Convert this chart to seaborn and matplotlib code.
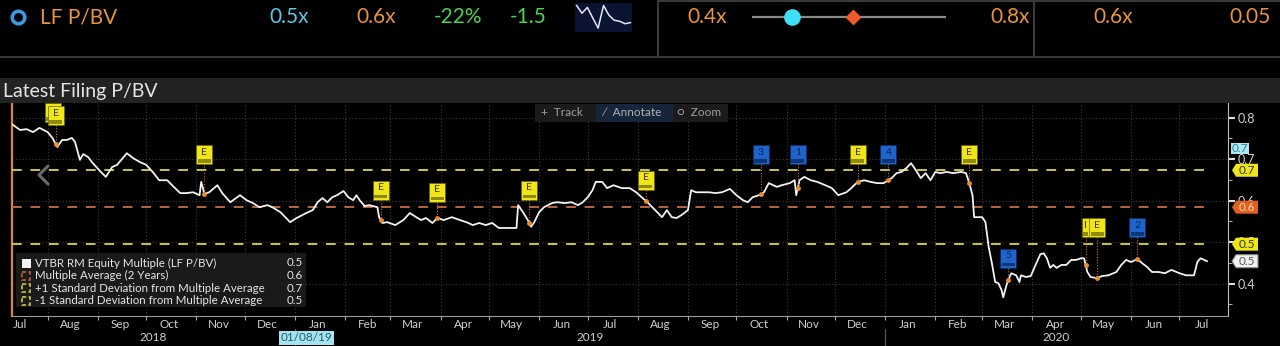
import numpy as np
import pandas as pd
import matplotlib
matplotlib.use("Agg")
import matplotlib.pyplot as plt
import matplotlib.dates as mdates
import matplotlib.transforms as mtransforms
from matplotlib.patches import Rectangle, Polygon
from matplotlib.ticker import NullFormatter, MultipleLocator
import seaborn as sns

# ---------------- data ----------------
start_date = "2018-07-10"
end_date = "2020-07-31"
day_offsets = [0, 5, 9, 13, 17, 22, 25, 27, 28, 31,
               34, 37, 39, 42, 44, 47, 50, 54, 58, 62,
               65, 71, 75, 79, 83, 87, 91, 96, 99, 104,
               108, 112, 116, 117, 119, 122, 127, 130, 135, 141,
               145, 149, 153, 158, 161, 166, 172, 176, 182, 186,
               189, 192, 195, 198, 201, 205, 208, 211, 213, 215,
               218, 221, 226, 227, 229, 232, 237, 242, 246, 250,
               253, 256, 260, 263, 267, 272, 277, 281, 285, 289,
               293, 297, 301, 306, 312, 313, 316, 319, 321, 323,
               326, 329, 334, 337, 342, 346, 350, 353, 356, 359,
               361, 365, 368, 372, 377, 382, 386, 390, 393, 396,
               399, 402, 405, 408, 411, 414, 418, 420, 423, 427,
               431, 435, 439, 444, 448, 452, 455, 458, 462, 465,
               468, 473, 476, 481, 484, 485, 487, 490, 494, 498,
               503, 507, 511, 516, 519, 523, 527, 531, 535, 539,
               544, 547, 550, 553, 556, 559, 562, 565, 568, 571,
               574, 578, 582, 587, 590, 592, 594, 595, 600, 602,
               604, 606, 608, 610, 612, 613, 615, 616, 618, 621,
               623, 624, 627, 630, 633, 636, 638, 640, 642, 644,
               646, 649, 652, 655, 658, 661, 663, 665, 667, 671,
               674, 678, 683, 686, 689, 692, 696, 699, 702, 705,
               709, 713, 717, 722, 726, 731, 733, 735, 739]
pbv_values = [0.784, 0.770, 0.772, 0.765, 0.775, 0.765, 0.751, 0.736, 0.729, 0.746,
              0.746, 0.751, 0.741, 0.698, 0.712, 0.705, 0.690, 0.673, 0.657, 0.681,
              0.686, 0.714, 0.702, 0.693, 0.686, 0.669, 0.649, 0.649, 0.637, 0.618,
              0.618, 0.620, 0.613, 0.645, 0.616, 0.620, 0.637, 0.618, 0.596, 0.613,
              0.601, 0.594, 0.584, 0.589, 0.584, 0.572, 0.548, 0.558, 0.570, 0.577,
              0.596, 0.606, 0.596, 0.608, 0.613, 0.623, 0.608, 0.601, 0.613, 0.601,
              0.587, 0.589, 0.584, 0.560, 0.546, 0.548, 0.541, 0.553, 0.570, 0.560,
              0.553, 0.558, 0.546, 0.558, 0.553, 0.560, 0.553, 0.548, 0.541, 0.546,
              0.541, 0.546, 0.534, 0.534, 0.534, 0.589, 0.572, 0.553, 0.537, 0.548,
              0.572, 0.584, 0.594, 0.596, 0.594, 0.596, 0.589, 0.596, 0.608, 0.625,
              0.645, 0.645, 0.630, 0.637, 0.630, 0.630, 0.620, 0.606, 0.596, 0.584,
              0.572, 0.560, 0.577, 0.560, 0.558, 0.565, 0.577, 0.625, 0.620, 0.620,
              0.620, 0.618, 0.620, 0.628, 0.613, 0.601, 0.596, 0.608, 0.613, 0.620,
              0.642, 0.633, 0.637, 0.642, 0.649, 0.613, 0.649, 0.657, 0.649, 0.645,
              0.637, 0.630, 0.613, 0.620, 0.630, 0.645, 0.649, 0.645, 0.642, 0.642,
              0.654, 0.666, 0.669, 0.678, 0.690, 0.673, 0.654, 0.666, 0.649, 0.669,
              0.666, 0.669, 0.666, 0.669, 0.666, 0.642, 0.613, 0.560, 0.560, 0.548,
              0.488, 0.449, 0.404, 0.401, 0.384, 0.367, 0.396, 0.408, 0.425, 0.420,
              0.404, 0.420, 0.416, 0.418, 0.445, 0.471, 0.473, 0.461, 0.438, 0.445,
              0.438, 0.445, 0.445, 0.457, 0.457, 0.461, 0.461, 0.428, 0.416, 0.413,
              0.418, 0.420, 0.428, 0.445, 0.457, 0.452, 0.459, 0.449, 0.440, 0.428,
              0.428, 0.425, 0.433, 0.425, 0.420, 0.420, 0.452, 0.461, 0.454]
avg_2y = 0.584
sd_plus = 0.673
sd_minus = 0.495
cyan_tag_value = 0.726

event_days = [27, 119, 228, 263, 320, 392, 463, 486, 523, 542, 592, 616, 664, 671, 696]
event_labels = ["E", "E", "E", "E", "E", "E", "3", "1", "E", "4", "E", "5", "I", "E", "2"]
event_box_levels = [0.804, 0.710, 0.625, 0.620, 0.625, 0.649, 0.710, 0.710, 0.710,
                    0.710, 0.710, 0.461, 0.534, 0.534, 0.534]
event_stack = [2, 1, 1, 1, 1, 1, 1, 1, 1, 1, 1, 1, 1, 1, 1]

crosshair_date = "2019-01-08"
crosshair_label = "01/08/19"
y_ticks = [0.4, 0.5, 0.6, 0.7, 0.8]

legend_labels = ["VTBR RM Equity Multiple (LF P/BV)",
                 "Multiple Average (2 Years)",
                 "+1 Standard Deviation from Multiple Average",
                 "-1 Standard Deviation from Multiple Average"]
legend_values = ["0.5", "0.6", "0.7", "0.5"]

header_name = "LF P/BV"
header_values = ["0.5x", "0.6x", "-22%", "-1.5"]
header_range = ["0.4x", "0.8x"]
header_right = ["0.6x", "0.05"]
spark_values = [0.91, 0.63, 0.84, 0.46, 0.09, 0.91, 0.56, 0.375, 0.34, 0.25, 0.29]

# ---------------- style ----------------
plt.rcParams['font.family'] = ['Lato', 'DejaVu Sans']
W, H = 1280, 346
WHITE = '#f2f2f2'
ORANGE = '#ee8f2c'
YELLOW_DASH = '#cbc646'
ORANGE_DASH = '#bb6440'
BOX_YELLOW = '#efe519'
BOX_BLUE = '#1f63cc'
GRID = '#3d3d3d'
TXT = '#cfcfcf'

fig = plt.figure(figsize=(W / 100, H / 100), dpi=100, facecolor='black')

ax = fig.add_axes([12 / W, 1 - 316 / H, 1216 / W, 213 / H])
ax.set_facecolor('black')

dates = pd.Timestamp(start_date) + pd.to_timedelta(day_offsets, unit='D')
df = pd.DataFrame({'date': dates, 'pbv': pbv_values})
sns.lineplot(data=df, x='date', y='pbv', ax=ax, color=WHITE, lw=1.3, zorder=4)

x0 = mdates.date2num(pd.Timestamp(start_date))
x1 = mdates.date2num(pd.Timestamp(end_date))
ax.set_xlim(x0, x1)
ax.set_ylim(0.322, 0.835)

# reference lines
d_first, d_last = mdates.date2num(dates[0]), mdates.date2num(dates[-1])
for v, c in [(sd_plus, YELLOW_DASH), (avg_2y, ORANGE_DASH), (sd_minus, YELLOW_DASH)]:
    ax.plot([d_first, d_last], [v, v], color=c, lw=1.4, ls=(0, (5, 4.5)), zorder=3)

# event markers on the line
ev_dates = pd.Timestamp(start_date) + pd.to_timedelta(event_days, unit='D')
ev_num = mdates.date2num(ev_dates)
ev_line = np.interp(event_days, day_offsets, pbv_values)
ax.plot(ev_num, ev_line, 'o', color=ORANGE, ms=3.5, mec='none', zorder=5)

# axes / ticks
ax.xaxis.set_major_locator(mdates.MonthLocator())
ax.xaxis.set_major_formatter(NullFormatter())
ax.xaxis.set_minor_locator(mdates.MonthLocator(bymonthday=15))
ax.xaxis.set_minor_formatter(mdates.DateFormatter('%b'))
ax.tick_params(axis='x', which='major', length=3, width=0.8, color='#aaaaaa')
ax.tick_params(axis='x', which='minor', length=0, labelsize=8.5, labelcolor=TXT, pad=2)
ax.yaxis.tick_right()
ax.set_yticks(y_ticks)
ax.set_yticklabels([f"{t:.1f}" for t in y_ticks])
ax.yaxis.set_minor_locator(MultipleLocator(0.05))
ax.tick_params(axis='y', which='major', length=5, width=1.5, color='#dddddd',
               labelcolor=TXT, labelsize=9, pad=2)
ax.tick_params(axis='y', which='minor', length=3, width=0.8, color='#aaaaaa')
ax.grid(which='major', axis='both', color=GRID, ls=(0, (1, 2)), lw=0.8)
ax.set_xlabel('')
ax.set_ylabel('')
ax.spines['top'].set_visible(False)
ax.spines['left'].set_color('#d98a2b')
ax.spines['left'].set_linewidth(1.6)
ax.spines['bottom'].set_color('#9a9a9a')
ax.spines['right'].set_color('#c0c0c0')

# year labels centred on the visible part of each year
blend = mtransforms.blended_transform_factory(ax.transData, ax.transAxes)
for yr in [2018, 2019, 2020]:
    a = max(mdates.date2num(pd.Timestamp(f"{yr}-01-01")), x0)
    b = min(mdates.date2num(pd.Timestamp(f"{yr + 1}-01-01")), x1)
    ax.text((a + b) / 2, -0.103, str(yr), transform=blend, ha='center', va='center',
            fontsize=8.5, color=TXT)
for yr in [2019, 2020]:
    xb = mdates.date2num(pd.Timestamp(f"{yr}-01-01"))
    ax.plot([xb, xb], [-0.06, -0.145], transform=blend, color='#555555', lw=0.9, clip_on=False)
ax.text(mdates.date2num(pd.Timestamp(crosshair_date)), -0.103, crosshair_label, transform=blend,
        ha='center', va='center', fontsize=8.5, color='#1d6070',
        bbox=dict(boxstyle='square,pad=0.12', fc='#a6e2f0', ec='none'), zorder=6)

# ---------------- overlay in pixel coordinates ----------------
ov = fig.add_axes([0, 0, 1, 1], zorder=10)
ov.set_xlim(0, W)
ov.set_ylim(H, 0)
ov.axis('off')
ov.patch.set_alpha(0)


def to_px(xnum, v):
    return ov.transData.inverted().transform(ax.transData.transform((xnum, v)))


# header
ov.plot([0, W], [57, 57], color='#3a3a3a', lw=1.5)
ov.plot([658, W], [1, 1], color='#3a3a3a', lw=1.5)
for xs in [658, 1034]:
    ov.plot([xs, xs], [0, 57], color='#3a3a3a', lw=1.5)
ov.plot(18, 17, 'o', mfc='none', mec='#3b9ae1', ms=9, mew=2.6)
ov.text(40, 17, header_name, ha='left', va='center', fontsize=15, color='#e8943a')
for xc, s, c in zip([289, 376, 458, 528], header_values,
                    ['#5ac8e4', '#e8943a', '#4fd24f', '#4fd24f']):
    ov.text(xc, 17, s, ha='center', va='center', fontsize=15, color=c)
ov.text(707, 17, header_range[0], ha='center', va='center', fontsize=15, color='#e8943a')
ov.text(1010, 17, header_range[1], ha='center', va='center', fontsize=15, color='#e8943a')
ov.text(1113, 17, header_right[0], ha='center', va='center', fontsize=15, color='#e8943a')
ov.text(1250, 17, header_right[1], ha='center', va='center', fontsize=15, color='#e8943a')

# sparkline
sp = fig.add_axes([575 / W, 1 - 32 / H, 57 / W, 29 / H], zorder=11)
sp.set_facecolor('#0b1332')
sp.plot(np.arange(len(spark_values)), spark_values, color='#e6e6f0', lw=1.1)
sp.set_ylim(-0.05, 1.0)
sp.set_xlim(-0.3, len(spark_values) - 0.7)
sp.set_xticks([])
sp.set_yticks([])
for s in sp.spines.values():
    s.set_visible(False)

# range slider
lo, hi = min(pbv_values), max(pbv_values)
sl = fig.add_axes([752 / W, 1 - 27 / H, 194 / W, 20 / H], zorder=11)
sl.set_xlim(lo, hi)
sl.set_ylim(-1, 1)
sl.axis('off')
sl.plot([lo, hi], [0, 0], color='#8a8a8a', lw=1.6)
sl.plot(pbv_values[-1], 0, 'o', color='#3fe0f5', ms=11)
sl.plot(avg_2y, 0, 'D', color='#ee5a2a', ms=7.5)

# title bar
ov.add_patch(Rectangle((0, 78), W, 25, fc='#232323', ec='none'))
ov.text(3, 91, "Latest Filing P/BV", ha='left', va='center', fontsize=14, color='#e4e4e4')

# toolbar
ov.add_patch(Rectangle((535, 104), 193, 18, fc='#1b1b1b', ec='none'))
ov.add_patch(Rectangle((596, 104), 77, 18, fc='#15263b', ec='none'))
ov.text(541, 113, "+  Track", ha='left', va='center', fontsize=8.5, color='#a0a0a0')
ov.text(601, 113, "\u2215  Annotate", ha='left', va='center', fontsize=8.5, color='#b0b0b0')
ov.text(677, 113, "\u25cb  Zoom", ha='left', va='center', fontsize=8.5, color='#a0a0a0')

# left arrow
ov.plot([48, 39, 48], [166, 175, 184], color='#6a6a6a', lw=2.2, solid_capstyle='round')

# event boxes
for xn, lab, lvl, ly, n in zip(ev_num, event_labels, event_box_levels, ev_line, event_stack):
    cx, cy = to_px(xn, lvl)
    _, py = to_px(xn, ly)
    yellow = not lab.isdigit()
    fc = BOX_YELLOW if yellow else BOX_BLUE
    band = '#8f8a10' if yellow else '#0f3778'
    tc = '#3a3500' if yellow else '#0b2450'
    w = 8 if lab == "I" else 16
    h = 19
    ov.plot([cx, cx], [cy + h / 2, py], color='#c47a34', lw=0.8, ls=(0, (1, 1.5)))
    for k in range(n - 1, -1, -1):
        ox, oy = -3 * k, -3 * k
        ov.add_patch(Rectangle((cx - w / 2 + ox, cy - h / 2 + oy), w, h, fc=fc,
                               ec='#6a6500' if yellow else '#0a2a60', lw=0.5))
        ov.add_patch(Rectangle((cx - w / 2 + 1.5 + ox, cy + h / 2 - 5 + oy), w - 3, 3.5,
                               fc=band, ec='none'))
    ov.text(cx, cy - 2.5, lab, ha='center', va='center', fontsize=7.5, color=tc)

# right-hand value tags
xr = to_px(x1, 0.5)[0]
_, cyv = to_px(x1, cyan_tag_value)
ov.add_patch(Rectangle((xr + 3, cyv - 5.5), 18, 11, fc='#aee6f2', ec='none'))
ov.text(xr + 12, cyv, "0.7", ha='center', va='center', fontsize=8.5, color='#2a8aa0')
tags = [(sd_plus, "0.7", '#eee51a', '#333300', 'none'),
        (avg_2y, "0.6", '#e0601c', '#f7d8c0', 'none'),
        (sd_minus, "0.5", '#eee51a', '#333300', 'none'),
        (pbv_values[-1], "0.5", '#f2f2f2', '#555555', '#888888')]
for v, s, fc, tc, ec in tags:
    _, cy = to_px(x1, v)
    poly = [(xr + 4, cy), (xr + 8, cy - 6.5), (xr + 30, cy - 6.5), (xr + 30, cy + 6.5), (xr + 8, cy + 6.5)]
    ov.add_patch(Polygon(poly, closed=True, fc=fc, ec=ec, lw=0.8))
    ov.text(xr + 19, cy, s, ha='center', va='center', fontsize=8.5, color=tc)

# legend
ov.add_patch(Rectangle((16, 253), 290, 54, fc='#1e1e1e', ec='none', alpha=0.9))
rows = [263, 275.5, 288, 300.5]
icon_colors = [WHITE, ORANGE_DASH, YELLOW_DASH, YELLOW_DASH]
for i, (yy, lab, val, ic) in enumerate(zip(rows, legend_labels, legend_values, icon_colors)):
    if i == 0:
        ov.add_patch(Rectangle((22, yy - 4.5), 9, 9, fc=ic, ec='none'))
    else:
        ov.add_patch(Rectangle((22, yy - 4), 8, 8, fill=False, ec=ic, lw=1.2, ls=(0, (2.5, 1.5))))
    ov.text(35, yy, lab, ha='left', va='center', fontsize=8.3, color='#e6e6e6')
    ov.text(287, yy, val, ha='left', va='center', fontsize=8.3, color='#e6e6e6')

fig.savefig('out.png', dpi=100, facecolor='black')
